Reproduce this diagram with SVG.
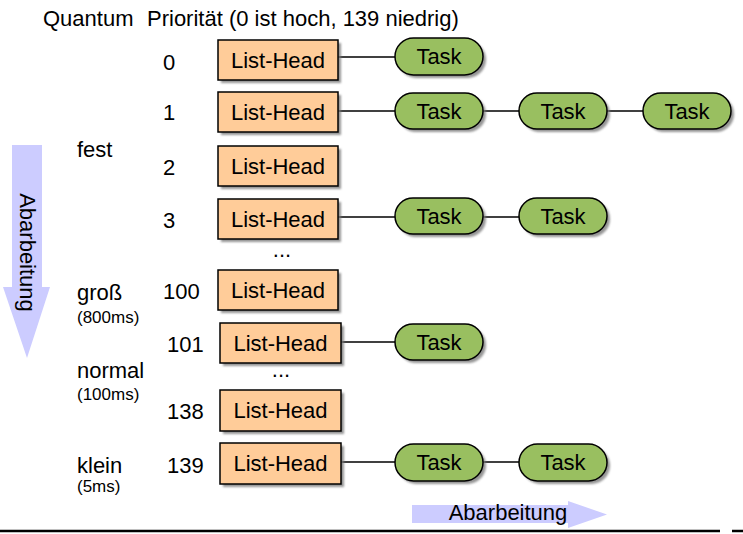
<svg xmlns="http://www.w3.org/2000/svg" width="743" height="534" viewBox="0 0 743 534">
<defs>
<filter id="soft" x="-10%" y="-10%" width="120%" height="130%"><feGaussianBlur stdDeviation="0.9"/></filter>
</defs>
<style>
text{font-family:"Liberation Sans",Arial,sans-serif;fill:#000}
.t{font-size:22px}
.s{font-size:17px}
.c{text-anchor:middle}
.box{fill:#ffcc99;stroke:#000;stroke-width:1.5}
.task{fill:#99bf60;stroke:#000;stroke-width:1.5}
.sh{fill:#7a7a7a;opacity:0.8;filter:url(#soft)}
.con line{stroke:#000;stroke-width:1.3}
.arr{fill:#ccccff}
</style>
<rect width="743" height="534" fill="#fff"/>
<text class="t" x="43" y="26">Quantum</text>
<text class="t" x="147" y="26">Priorität (0 ist hoch, 139 niedrig)</text>

<g id="arrow-vertical">
<polygon class="arr" points="12,145 42,145 42,287 50,287 27,358 3,287 12,287"/>
<text class="t c" transform="translate(20,252.5) rotate(90)">Abarbeitung</text>
</g>
<g id="arrow-horizontal">
<polygon class="arr" points="412,505 568,505 568,501 607,514.5 568,528 568,523 412,523"/>
<text class="t c" x="508" y="520">Abarbeitung</text>
</g>

<g id="quantum-labels">
<text class="t" x="77" y="157">fest</text>
<text class="t" x="77" y="300">groß</text>
<text class="s" x="77" y="323">(800ms)</text>
<text class="t" x="77" y="378">normal</text>
<text class="s" x="77" y="400">(100ms)</text>
<text class="t" x="77" y="473">klein</text>
<text class="s" x="77" y="492">(5ms)</text>
</g>

<g id="priority-labels">
<text class="t" x="163" y="70">0</text>
<text class="t" x="163" y="120">1</text>
<text class="t" x="163" y="175">2</text>
<text class="t" x="163" y="228">3</text>
<text class="t" x="163" y="299">100</text>
<text class="t" x="167" y="352">101</text>
<text class="t" x="167" y="419">138</text>
<text class="t" x="167" y="473">139</text>
<text class="t c" x="282" y="257">...</text>
<text class="t c" x="281" y="377">...</text>
</g>

<g class="con" id="connectors">
<line x1="338" y1="57" x2="395" y2="57"/>
<line x1="338" y1="111" x2="395" y2="111"/>
<line x1="483" y1="111" x2="519" y2="111"/>
<line x1="607" y1="111" x2="643" y2="111"/>
<line x1="338" y1="217" x2="395" y2="217"/>
<line x1="483" y1="217" x2="519" y2="217"/>
<line x1="341" y1="342" x2="395" y2="342"/>
<line x1="341" y1="462" x2="395" y2="462"/>
<line x1="483" y1="462" x2="519" y2="462"/>
</g>

<g id="head-0"><rect class="sh" x="221" y="43" width="120" height="40"/><rect class="box" x="218" y="40" width="120" height="40"/><text class="t c" x="278" y="68">List-Head</text></g>
<g id="head-1"><rect class="sh" x="221" y="95" width="120" height="40"/><rect class="box" x="218" y="92" width="120" height="40"/><text class="t c" x="278" y="120">List-Head</text></g>
<g id="head-2"><rect class="sh" x="221" y="149" width="120" height="40"/><rect class="box" x="218" y="146" width="120" height="40"/><text class="t c" x="278" y="174">List-Head</text></g>
<g id="head-3"><rect class="sh" x="221" y="202" width="120" height="40"/><rect class="box" x="218" y="199" width="120" height="40"/><text class="t c" x="278" y="227">List-Head</text></g>
<g id="head-100"><rect class="sh" x="221" y="273" width="120" height="40"/><rect class="box" x="218" y="270" width="120" height="40"/><text class="t c" x="278" y="298">List-Head</text></g>
<g id="head-101"><rect class="sh" x="223" y="326" width="121" height="40"/><rect class="box" x="220" y="323" width="121" height="40"/><text class="t c" x="280.5" y="351">List-Head</text></g>
<g id="head-138"><rect class="sh" x="223" y="393" width="121" height="41"/><rect class="box" x="220" y="390" width="121" height="41"/><text class="t c" x="280.5" y="418">List-Head</text></g>
<g id="head-139"><rect class="sh" x="223" y="446" width="121" height="41"/><rect class="box" x="220" y="443" width="121" height="41"/><text class="t c" x="280.5" y="471">List-Head</text></g>

<g id="task-0-1"><rect class="sh" x="398" y="41" width="88" height="37" rx="18.5"/><rect class="task" x="395" y="38" width="88" height="37" rx="18.5"/><text class="t c" x="439" y="64">Task</text></g>
<g id="task-1-1"><rect class="sh" x="398" y="96" width="88" height="36" rx="18"/><rect class="task" x="395" y="93" width="88" height="36" rx="18"/><text class="t c" x="439" y="119">Task</text></g>
<g id="task-1-2"><rect class="sh" x="522" y="96" width="88" height="36" rx="18"/><rect class="task" x="519" y="93" width="88" height="36" rx="18"/><text class="t c" x="563" y="119">Task</text></g>
<g id="task-1-3"><rect class="sh" x="646" y="96" width="88" height="36" rx="18"/><rect class="task" x="643" y="93" width="88" height="36" rx="18"/><text class="t c" x="687" y="119">Task</text></g>
<g id="task-3-1"><rect class="sh" x="398" y="201" width="88" height="36" rx="18"/><rect class="task" x="395" y="198" width="88" height="36" rx="18"/><text class="t c" x="439" y="224">Task</text></g>
<g id="task-3-2"><rect class="sh" x="522" y="201" width="88" height="36" rx="18"/><rect class="task" x="519" y="198" width="88" height="36" rx="18"/><text class="t c" x="563" y="224">Task</text></g>
<g id="task-101-1"><rect class="sh" x="398" y="327" width="88" height="36" rx="18"/><rect class="task" x="395" y="324" width="88" height="36" rx="18"/><text class="t c" x="439" y="350">Task</text></g>
<g id="task-139-1"><rect class="sh" x="398" y="447" width="88" height="37" rx="18.5"/><rect class="task" x="395" y="444" width="88" height="37" rx="18.5"/><text class="t c" x="439" y="470">Task</text></g>
<g id="task-139-2"><rect class="sh" x="522" y="447" width="88" height="37" rx="18.5"/><rect class="task" x="519" y="444" width="88" height="37" rx="18.5"/><text class="t c" x="563" y="470">Task</text></g>

<g id="baseline">
<line x1="0" y1="531" x2="720" y2="531" stroke="#000" stroke-width="2.5"/>
<line x1="732" y1="531" x2="743" y2="531" stroke="#000" stroke-width="2.5"/>
</g>
</svg>
